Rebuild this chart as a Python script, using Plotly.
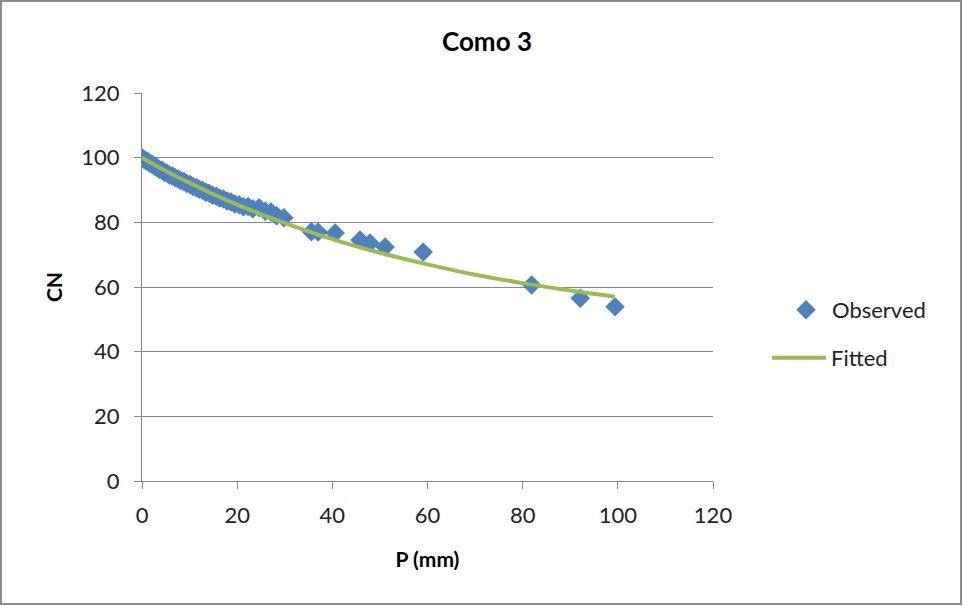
import plotly.graph_objects as go

# Observed data (P in mm, CN)
obs_p = [0, 0.4, 0.9, 1.3, 1.8, 2.2, 2.7, 3.1, 3.6, 4.2, 4.7, 5.3, 5.8, 6.4, 7.0, 7.6, 8.1, 8.8,
         9.4, 10.1, 10.7, 11.4, 12.0, 12.7, 13.4, 14.1, 14.8, 15.6, 16.3, 17.1, 17.9, 18.7, 19.5,
         20.4, 21.3, 22.3, 23.3, 24.6, 25.9, 27.1, 28.3, 29.8, 35.6, 37.0, 40.6, 45.8, 47.9, 51.1,
         59.1, 81.9, 92.1, 99.4]
obs_cn = [100, 99.5, 99.0, 98.7, 98.1, 97.9, 97.3, 97.0, 96.4, 96.1, 95.5, 95.2, 94.6, 94.3, 93.8,
          93.4, 92.9, 92.6, 92.0, 91.7, 91.1, 90.8, 90.2, 89.9, 89.3, 89.0, 88.4, 88.1, 87.5, 87.2,
          86.6, 86.3, 85.7, 85.4, 84.8, 84.9, 84.2, 84.5, 83.4, 83.2, 82.0, 81.4, 77.1, 77.0, 76.7,
          74.5, 73.6, 72.4, 70.8, 60.6, 56.5, 53.9]

# Fitted curve
fit_p = [0, 5, 10, 15, 20, 25, 30, 40, 50, 60, 70, 80, 90, 99.4]
fit_cn = [100, 95.9, 92.2, 88.7, 85.5, 82.5, 79.8, 74.8, 70.6, 67.0, 63.8, 61.2, 58.9, 57.0]

x_ticks = [0, 20, 40, 60, 80, 100, 120]
y_ticks = [0, 20, 40, 60, 80, 100, 120]

BLUE = "#4F81BD"
GREEN = "#9BBB59"
GRID = "#868686"
FONT = "Lato, Open Sans, sans-serif"

fig = go.Figure()
fig.add_trace(go.Scatter(
    x=obs_p, y=obs_cn, mode="markers", name="Observed", showlegend=True,
    marker=dict(symbol="diamond", size=15, color=BLUE, line=dict(width=0)),
    legend="legend",
))
fig.add_trace(go.Scatter(
    x=fit_p, y=fit_cn, mode="lines", name="Fitted", showlegend=True,
    line=dict(color=GREEN, width=4, shape="spline"),
    legend="legend2",
))

W, H = 963, 606
L, R, T, B = 142, 713, 93, 481
pw, ph = R - L, B - T

def px(xp):
    return (xp - L) / pw

def py(yp):
    return (B - yp) / ph

fig.update_layout(
    width=W, height=H,
    margin=dict(l=L, r=W - R, t=T, b=H - B, autoexpand=False),
    paper_bgcolor="white", plot_bgcolor="white",
    font=dict(family=FONT, size=22, color="#222222"),
    title=dict(text="<b>Como 3</b>", xref="container", yref="container",
               x=487 / W, xanchor="center",
               y=1 - 42 / H, yanchor="middle", font=dict(size=26, color="#000000")),
    xaxis=dict(range=[0, 120], tickvals=x_ticks, showgrid=False, zeroline=False,
               showline=True, linecolor=GRID, linewidth=1, automargin=False,
               ticks="outside", ticklen=7, tickcolor=GRID, ticklabelstandoff=8,
               title=dict(text="<b>P (mm)</b>", font=dict(size=21, color="#000000"), standoff=24)),
    yaxis=dict(range=[0, 120], tickvals=y_ticks, showgrid=True, gridcolor=GRID, gridwidth=1,
               zeroline=False, showline=True, linecolor=GRID, linewidth=1, automargin=False,
               ticks="outside", ticklen=7, tickcolor=GRID, ticklabelstandoff=10,
               title=dict(text="<b>CN</b>", font=dict(size=21, color="#000000"), standoff=12)),
    legend=dict(x=px(780), y=py(310), xanchor="left", yanchor="middle", itemwidth=42,
                bgcolor="rgba(0,0,0,0)", font=dict(size=22)),
    legend2=dict(x=px(767), y=py(358), xanchor="left", yanchor="middle", itemwidth=54,
                 bgcolor="rgba(0,0,0,0)", font=dict(size=22)),
    shapes=[dict(type="rect", xref="paper", yref="paper",
                 x0=px(1), x1=px(961), y0=py(604), y1=py(1),
                 line=dict(color="#8C8C8C", width=2), fillcolor="rgba(0,0,0,0)", layer="below")],
)

fig.write_html("out.html", config={"displayModeBar": False},
               post_script="document.body.style.margin='0';document.body.style.overflow='hidden';")
